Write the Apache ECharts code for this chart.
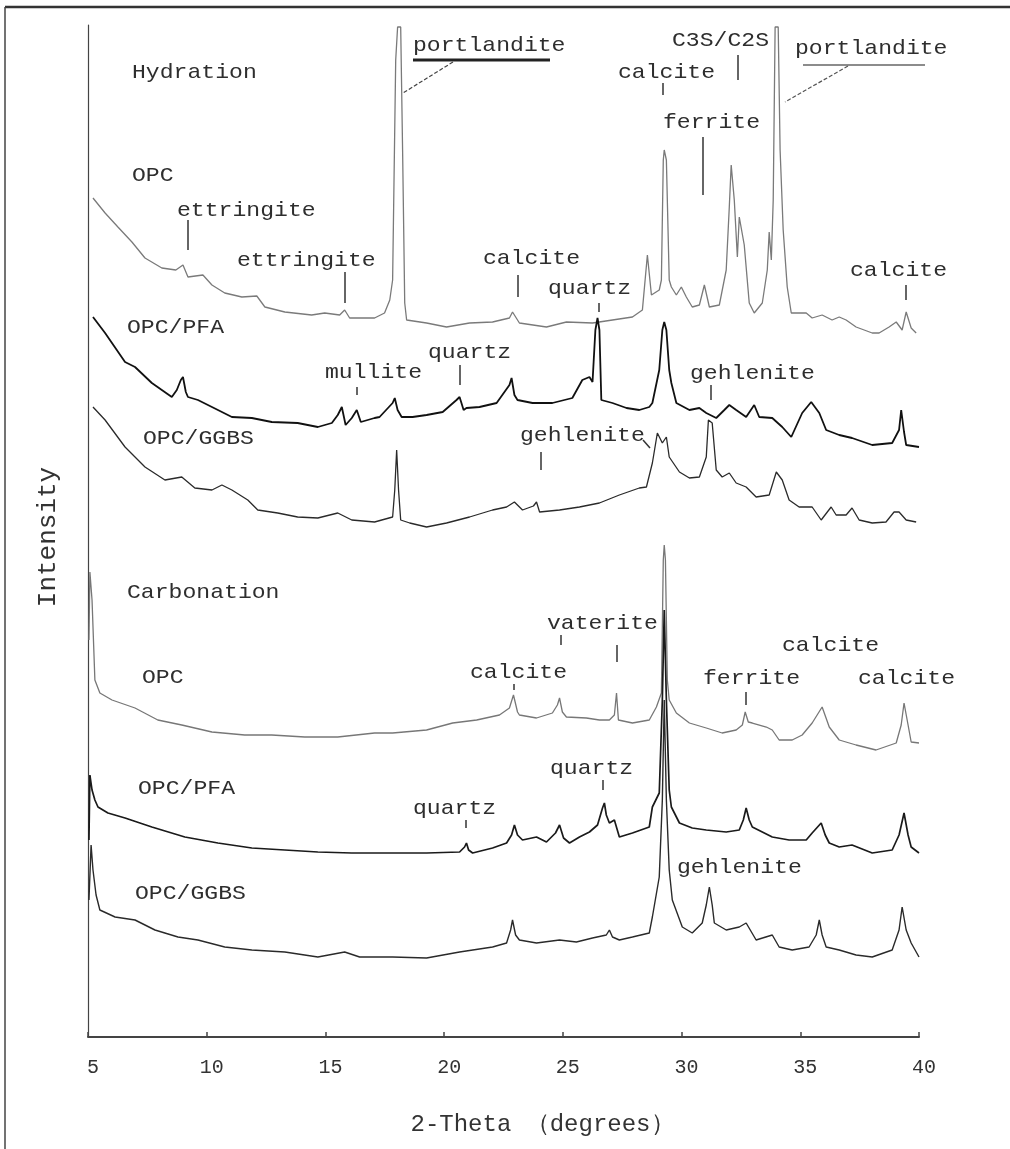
<!DOCTYPE html>
<html>
<head>
<meta charset="utf-8">
<script src="https://cdn.jsdelivr.net/npm/echarts@6/dist/echarts.min.js"></script>
<style>
html,body{margin:0;padding:0;background:#fff;}
#chart{width:1010px;height:1149px;}
</style>
</head>
<body>
<div id="chart"></div>
<script>
// ---- Data: [2-theta (degrees), intensity (arbitrary, stacked offset)] ----
const xTicks = [5, 10, 15, 20, 25, 30, 35, 40];

const hydOPC = [[5.21,839],[5.72,824],[6.26,810],[6.85,795],[7.40,779],[8.11,769],[8.70,767],[9.00,772],[9.21,760],[9.84,762],[10.22,752],[10.76,744],[11.48,740],[12.11,741],[12.45,730],[13.29,725],[14.42,722],[14.97,724],[15.60,722],[15.81,727],[16.02,719],[17.07,719],[17.49,724],[17.71,737],[17.83,757],[17.96,977],[18.04,1010],[18.17,1010],[18.25,887],[18.34,734],[18.42,717],[19.26,714],[20.10,710],[21.07,714],[22.04,715],[22.75,719],[22.88,725],[23.17,714],[24.31,710],[25.15,715],[26.25,714],[27.09,717],[27.93,720],[28.35,727],[28.56,782],[28.73,742],[29.06,747],[29.15,757],[29.23,877],[29.27,887],[29.36,877],[29.48,757],[29.57,750],[29.78,742],[29.99,750],[30.20,740],[30.45,730],[30.75,732],[30.96,752],[31.17,730],[31.59,732],[31.88,767],[32.01,830],[32.09,872],[32.22,837],[32.35,780],[32.43,820],[32.51,819],[32.64,792],[32.85,734],[33.06,724],[33.40,734],[33.61,767],[33.69,805],[33.78,777],[33.86,837],[33.94,1010],[34.07,1010],[34.15,887],[34.28,807],[34.45,750],[34.62,724],[35.25,724],[35.50,719],[35.92,722],[36.34,717],[36.64,720],[36.93,717],[37.35,710],[38.03,704],[38.32,704],[38.74,710],[39.04,715],[39.29,707],[39.46,725],[39.67,709],[39.88,704]];

const hydPFA = [[5.21,720],[5.72,704],[6.56,675],[6.98,670],[7.69,654],[8.53,640],[8.74,647],[8.91,657],[9.00,660],[9.12,645],[9.21,640],[9.63,637],[10.22,630],[11.06,620],[11.90,619],[12.74,615],[13.83,614],[14.68,610],[15.27,614],[15.52,622],[15.69,630],[15.85,612],[16.11,619],[16.32,627],[16.49,615],[17.07,619],[17.28,620],[17.83,634],[17.92,639],[18.04,627],[18.21,620],[18.67,620],[19.26,622],[19.94,625],[20.52,637],[20.65,640],[20.82,627],[20.94,629],[21.49,630],[22.21,634],[22.75,652],[22.84,659],[22.96,642],[23.09,637],[23.72,634],[24.56,634],[25.40,639],[25.82,657],[26.12,660],[26.25,655],[26.37,707],[26.46,719],[26.54,707],[26.62,637],[27.09,634],[27.68,629],[28.22,627],[28.64,630],[28.77,634],[29.06,667],[29.19,707],[29.27,715],[29.36,707],[29.48,667],[29.57,654],[29.78,634],[30.33,627],[30.75,629],[31.04,624],[31.46,619],[31.80,627],[32.01,632],[32.30,627],[32.72,620],[33.06,632],[33.27,620],[33.82,619],[34.24,610],[34.62,600],[35.08,624],[35.46,635],[35.80,624],[36.09,607],[36.64,602],[37.18,599],[38.03,592],[38.87,594],[39.16,607],[39.25,627],[39.37,605],[39.46,592],[40.00,590]];

const hydGGBS = [[5.21,630],[5.72,617],[6.56,590],[7.40,570],[8.24,557],[8.95,560],[9.50,549],[10.22,547],[10.64,552],[11.06,547],[11.73,537],[12.15,527],[12.99,524],[13.83,520],[14.68,519],[15.52,524],[16.11,517],[17.07,515],[17.83,520],[17.92,547],[18.00,587],[18.08,547],[18.17,517],[18.55,514],[19.26,510],[20.10,514],[21.07,520],[22.04,527],[22.63,530],[22.96,535],[23.30,527],[23.76,531],[23.89,535],[24.02,525],[24.86,527],[25.70,530],[26.54,534],[27.38,542],[28.22,549],[28.52,550],[28.77,574],[28.98,604],[29.19,594],[29.36,600],[29.48,580],[29.91,565],[30.33,559],[30.75,560],[31.04,580],[31.13,617],[31.21,619],[31.29,614],[31.46,567],[31.71,560],[32.01,564],[32.30,554],[32.72,550],[33.14,540],[33.69,542],[33.99,565],[34.24,557],[34.53,537],[34.95,530],[35.50,530],[35.88,517],[36.30,530],[36.51,522],[36.93,522],[37.18,529],[37.48,517],[38.03,514],[38.61,515],[38.95,525],[39.16,525],[39.46,517],[39.88,515]];

const carbOPC = [[5.04,397],[5.08,465],[5.17,437],[5.29,357],[5.50,344],[6.01,337],[6.98,329],[7.94,317],[8.95,312],[10.22,305],[11.60,302],[12.74,302],[14.13,300],[15.52,300],[17.07,304],[17.83,304],[19.26,307],[20.36,314],[21.37,317],[22.33,322],[22.75,329],[22.92,342],[23.09,325],[23.17,322],[23.89,319],[24.56,324],[24.77,332],[24.86,339],[24.98,325],[25.15,320],[25.99,319],[26.54,317],[26.96,317],[27.17,322],[27.26,344],[27.34,317],[27.38,315],[27.93,314],[28.64,317],[28.94,330],[29.15,344],[29.23,477],[29.27,492],[29.32,477],[29.40,357],[29.48,337],[29.78,324],[30.33,314],[31.04,309],[31.71,304],[32.30,307],[32.56,312],[32.68,325],[32.81,315],[32.98,314],[33.57,310],[33.82,307],[34.11,297],[34.66,297],[35.08,302],[35.50,314],[35.92,330],[36.22,310],[36.64,297],[37.35,292],[38.19,287],[39.04,294],[39.25,312],[39.37,334],[39.54,312],[39.67,295],[40.00,294]];

const carbPFA = [[5.04,197],[5.08,262],[5.17,247],[5.29,237],[5.42,230],[5.84,224],[6.56,219],[7.69,210],[9.08,200],[10.47,194],[11.90,189],[13.29,187],[14.68,185],[16.11,184],[17.83,184],[19.26,184],[20.65,185],[20.86,190],[20.94,194],[21.03,187],[21.20,184],[22.04,189],[22.63,194],[22.84,202],[22.96,212],[23.09,202],[23.30,197],[23.89,200],[24.31,195],[24.69,204],[24.86,212],[25.03,199],[25.28,194],[25.70,200],[26.12,205],[26.46,212],[26.67,229],[26.75,234],[26.83,222],[26.96,214],[27.17,217],[27.38,200],[27.93,204],[28.64,210],[28.77,230],[29.06,244],[29.19,337],[29.27,427],[29.36,337],[29.48,247],[29.57,230],[29.91,214],[30.45,209],[31.04,207],[31.88,205],[32.43,207],[32.60,217],[32.72,229],[32.85,217],[32.98,210],[33.82,200],[34.53,197],[35.25,197],[35.50,204],[35.88,214],[36.05,202],[36.22,194],[36.64,190],[37.18,192],[38.03,184],[38.87,187],[39.16,202],[39.37,224],[39.54,202],[39.67,190],[40.00,184]];

const carbGGBS = [[5.04,137],[5.13,192],[5.21,167],[5.34,142],[5.50,127],[6.14,120],[6.98,117],[7.82,107],[8.79,100],[9.63,97],[10.76,90],[11.90,87],[13.29,85],[14.68,80],[15.81,85],[16.44,80],[17.83,80],[19.26,79],[20.65,85],[22.04,90],[22.63,94],[22.80,107],[22.88,117],[23.01,102],[23.17,97],[23.89,94],[24.86,97],[25.57,95],[26.25,99],[26.83,102],[26.96,107],[27.09,100],[27.38,97],[27.93,100],[28.64,104],[28.77,120],[29.06,160],[29.19,237],[29.27,337],[29.36,237],[29.48,167],[29.61,137],[30.03,110],[30.45,104],[30.87,114],[31.04,132],[31.17,150],[31.29,132],[31.38,114],[31.88,107],[32.43,110],[32.72,114],[33.14,97],[33.82,102],[34.11,90],[34.66,87],[35.37,90],[35.67,102],[35.80,117],[35.92,102],[36.09,90],[36.64,87],[37.35,82],[38.03,80],[38.87,87],[39.16,107],[39.29,130],[39.46,107],[39.67,94],[40.00,80]];

// annotation texts
const annoTexts = [
  ['Hydration',132,72],['portlandite',413,45],['calcite',618,72],['C3S/C2S',672,40],
  ['portlandite',795,48],['ferrite',663,122],['OPC',132,175],['ettringite',177,210],
  ['ettringite',237,260],['calcite',483,258],['quartz',548,288],['calcite',850,270],
  ['OPC/PFA',127,327],['mullite',325,372],['quartz',428,352],['gehlenite',690,373],
  ['OPC/GGBS',143,438],['gehlenite',520,435],
  ['Carbonation',127,592],['OPC',142,677],['vaterite',547,623],['calcite',470,672],
  ['calcite',782,645],['ferrite',703,678],['calcite',858,678],['OPC/PFA',138,788],
  ['quartz',550,768],['quartz',413,808],['OPC/GGBS',135,893],['gehlenite',677,867]
];
// annotation leader ticks
const annoTicks = [
  [663,83,663,95],[738,55,738,80],[703,137,703,195],[188,220,188,250],[345,272,345,303],
  [518,275,518,297],[599,303,599,312],[906,285,906,300],[357,387,357,395],[460,365,460,385],
  [711,385,711,400],[541,452,541,470],[643,440,650,448],[561,635,561,645],[617,645,617,662],
  [514,684,514,690],[603,780,603,790],[466,820,466,828],[746,692,746,705]
];

const FONT = '"Liberation Mono", "DejaVu Sans Mono", monospace';
const chart = echarts.init(document.getElementById('chart'), null, {renderer:'canvas'});

const graphics = [];
annoTexts.forEach(([t,x,y]) => {
  graphics.push({type:'text', x:x, y:y, scaleX:1.1, z:10,
    style:{text:t, fill:'#2e2e2e', fontFamily:FONT, fontSize:21, verticalAlign:'middle', align:'left'}});
});
annoTicks.forEach(([x1,y1,x2,y2]) => {
  graphics.push({type:'line', z:10, shape:{x1,y1,x2,y2}, style:{stroke:'#333', lineWidth:1.5}});
});
// underlines and leaders for portlandite labels
graphics.push({type:'line', z:10, shape:{x1:413,y1:60,x2:550,y2:60}, style:{stroke:'#222', lineWidth:3}});
graphics.push({type:'line', z:10, shape:{x1:453,y1:62,x2:403,y2:93}, style:{stroke:'#444', lineWidth:1.2, lineDash:[4,2]}});
graphics.push({type:'line', z:10, shape:{x1:803,y1:65,x2:925,y2:65}, style:{stroke:'#666', lineWidth:1.5}});
graphics.push({type:'line', z:10, shape:{x1:848,y1:66,x2:785,y2:102}, style:{stroke:'#555', lineWidth:1.2, lineDash:[4,2]}});
// figure frame (top and left)
graphics.push({type:'line', z:10, shape:{x1:5,y1:7,x2:1010,y2:7}, style:{stroke:'#333', lineWidth:2.5}});
graphics.push({type:'line', z:10, shape:{x1:5,y1:7,x2:5,y2:1149}, style:{stroke:'#444', lineWidth:1.5}});

function mk(name, data, color, width){
  return {name, type:'line', data, showSymbol:false, symbol:'none', smooth:false,
    lineStyle:{color, width}, itemStyle:{color}, z:2, clip:true};
}

chart.setOption({
  animation:false,
  backgroundColor:'#fff',
  grid:{left:88, right:91, top:25, bottom:112, containLabel:false},
  xAxis:{type:'value', min:5, max:40, interval:5,
    name:'2-Theta （degrees）', nameLocation:'middle', nameGap:76,
    nameTextStyle:{fontFamily:FONT, fontSize:24, color:'#333', padding:[0,0,0,78]},
    axisLine:{show:true, lineStyle:{color:'#444', width:2}},
    axisTick:{show:true, inside:true, length:5, lineStyle:{color:'#444', width:1.5}},
    axisLabel:{fontFamily:FONT, fontSize:20, color:'#333', margin:21, padding:[0,0,0,10]},
    splitLine:{show:false}},
  yAxis:{type:'value', min:0, max:1012,
    name:'Intensity', nameLocation:'middle', nameGap:27, nameRotate:90,
    nameTextStyle:{fontFamily:FONT, fontSize:26, color:'#333', padding:[0,12,0,0]},
    axisLine:{show:true, lineStyle:{color:'#444', width:1.2}},
    axisTick:{show:false}, axisLabel:{show:false}, splitLine:{show:false}},
  series:[
    mk('Hydration OPC', hydOPC, '#7a7a7a', 1.3),
    mk('Hydration OPC/PFA', hydPFA, '#111', 1.8),
    mk('Hydration OPC/GGBS', hydGGBS, '#2a2a2a', 1.3),
    mk('Carbonation OPC', carbOPC, '#777', 1.3),
    mk('Carbonation OPC/PFA', carbPFA, '#1a1a1a', 1.7),
    mk('Carbonation OPC/GGBS', carbGGBS, '#2a2a2a', 1.4)
  ],
  graphic: graphics
});
</script>
</body>
</html>
